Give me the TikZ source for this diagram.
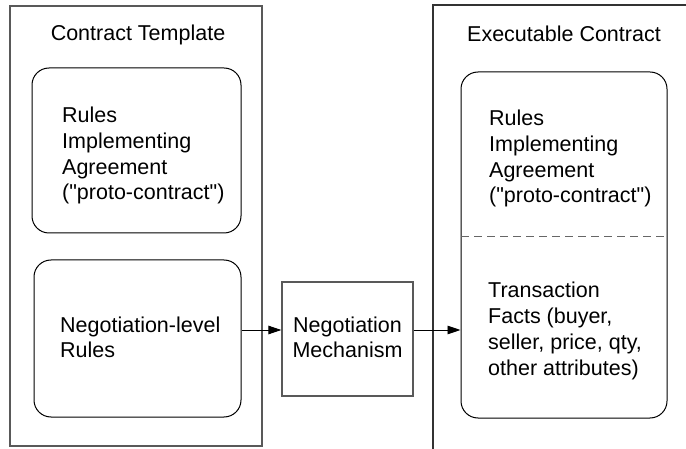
\documentclass[tikz,border=0pt]{standalone}
\usepackage{fontspec}
\setmainfont{Liberation Sans}
\usetikzlibrary{arrows.meta}
\tikzset{
  lbl/.style={inner sep=0pt, align=left, anchor=base west,
    font=\fontsize{21.5}{25.8}\selectfont},
  ttl/.style={inner sep=0pt, anchor=base,
    font=\fontsize{21.5}{25.8}\selectfont},
  outer/.style={draw=black!65, line width=1.2pt},
  rbox/.style={draw=black, line width=1pt, rounded corners=17pt, inner sep=0pt},
  sbox/.style={draw=black!65, line width=1.2pt, inner sep=0pt},
  arr/.style={draw=black, line width=0.9pt, -{Triangle[length=13pt,width=8.5pt]}},
  sep/.style={draw=black!60, line width=1pt, dash pattern=on 8pt off 5pt}
}
\newcommand{\qt}{\textquotedbl}
\begin{document}
\begin{tikzpicture}[x=1pt,y=-1pt]
  \useasboundingbox (0,0) rectangle (686,449);

  % Contract template frame
  \draw[outer] (10,6) rectangle (262,446);
  \node[ttl] (tpltitle) at (138,41) {Contract Template};

  % multi-line labels are placed by the baseline of their last line
  \node[rbox, minimum width=209pt, minimum height=165pt] (agree) at (136.5,150.5) {};
  \node[lbl] (agreetxt) at (62,200)
    {Rules\\Implementing\\Agreement\\(\qt proto-contract\qt)};

  \node[rbox, minimum width=207pt, minimum height=157pt] (negrules) at (137.5,338.5) {};
  \node[lbl] (negrulestxt) at (60,358) {Negotiation-level\\Rules};

  % Negotiation mechanism
  \node[sbox, minimum width=131pt, minimum height=114pt] (mech) at (347.5,339) {};
  \node[ttl, align=center] (mechtxt) at (347.5,358) {Negotiation\\Mechanism};

  % Executable contract frame (open to the right and bottom)
  \draw[outer, draw=black!80] (686,5) -- (433,5) -- (433,449);
  \node[ttl] (exectitle) at (564,42) {Executable Contract};

  \node[rbox, minimum width=206pt, minimum height=346pt] (exec) at (564,245) {};
  \coordinate (dashl) at (461,237);
  \coordinate (dashr) at (667,237);
  \draw[sep] (dashl) -- (dashr);
  \node[lbl] (exectxt) at (489,203)
    {Rules\\Implementing\\Agreement\\(\qt proto-contract\qt)};
  \node[lbl] (facttxt) at (488,375)
    {Transaction\\Facts (buyer,\\seller, price, qty,\\other attributes)};

  % Flow arrows
  \coordinate (flow) at (0,330);
  \draw[arr] (negrules.east |- flow) -- (mech.west |- flow);
  \draw[arr] (mech.east |- flow) -- (exec.west |- flow);
\end{tikzpicture}
\end{document}
